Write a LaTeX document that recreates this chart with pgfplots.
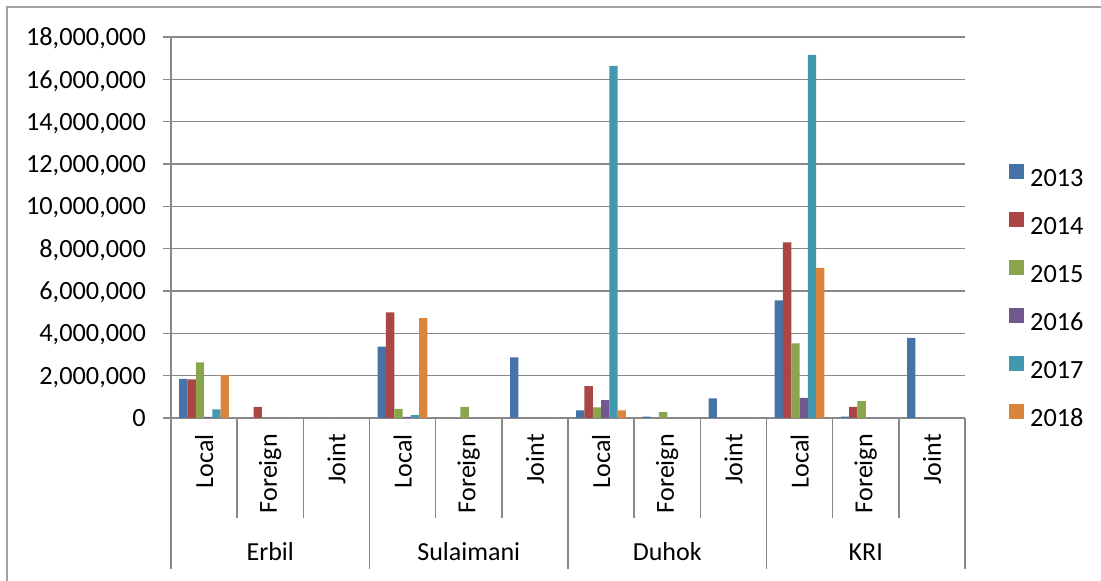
\documentclass[border=0pt]{standalone}
\usepackage{pgfplots}
\pgfplotsset{compat=1.18}
\usepackage{fontspec}
\setmainfont{Carlito}
\definecolor{c13}{HTML}{4572A7}
\definecolor{c14}{HTML}{AA4643}
\definecolor{c15}{HTML}{89A54E}
\definecolor{c16}{HTML}{71588F}
\definecolor{c17}{HTML}{4198AF}
\definecolor{c18}{HTML}{DB843D}
\definecolor{gridgray}{HTML}{898989}
\newcommand{\cfont}{\fontsize{26}{31}\selectfont}
\newcommand{\tfont}{\fontsize{26.3}{31}\selectfont}
\begin{document}
\begin{tikzpicture}
\path[use as bounding box] (0pt,0pt) rectangle (1101pt,581pt);
\draw[color=gridgray!80, line width=1.4pt] (7pt,-5pt) -- (7pt,574pt) -- (1110pt,574pt);
\begin{axis}[
  at={(171pt,163pt)}, anchor=south west,
  scale only axis, width=794pt, height=381pt,
  xmin=-0.5, xmax=11.5, ymin=0, ymax=18000000,
  ybar=0pt, bar width=8.3pt,
  axis x line*=bottom, axis y line*=left,
  axis line style={-, draw=gridgray, line width=1.5pt},
  clip=false,
  ytick={0,2000000,4000000,6000000,8000000,10000000,12000000,14000000,16000000,18000000},
  scaled y ticks=false,
  /pgf/number format/fixed, /pgf/number format/precision=0,
  /pgf/number format/1000 sep={,}, /pgf/number format/assume math mode=true,
  yticklabel style={font=\tfont, inner sep=0pt, text depth=0pt, anchor=east, xshift=-17pt},
  ymajorgrids, major grid style={draw=gridgray, line width=1.5pt},
  tick align=outside, major tick length=8pt,
  major y tick style={draw=gridgray, line width=1.5pt},
  xtick={0,1,2,3,4,5,6,7,8,9,10,11},
  xticklabels={Local,Foreign,Joint,Local,Foreign,Joint,Local,Foreign,Joint,Local,Foreign,Joint},
  xticklabel style={font=\cfont, rotate=90, anchor=east, inner sep=0pt},
  xticklabel shift=8pt,
  major x tick style={draw=none},
  minor xtick={-0.5,0.5,1.5,2.5,3.5,4.5,5.5,6.5,7.5,8.5,9.5,10.5,11.5},
  minor tick length=100pt,
  minor x tick style={draw=gridgray, line width=1.5pt},
  legend style={at={(1.0554,0.3228)}, anchor=west, draw=none, fill=none, font=\tfont,
    inner sep=0pt, row sep=25pt, column sep=0pt,
    nodes={inner xsep=6pt, inner ysep=0pt, text height=16pt, text depth=0pt}},
  legend cell align=left,
  legend image code/.code={\fill[#1] (0pt,0pt) rectangle (15pt,15pt);},
]
\addplot[fill=c13, draw=none] coordinates {(0,1850000) (1,0) (2,0) (3,3370000) (4,0) (5,2870000) (6,360000) (7,60000) (8,930000) (9,5560000) (10,60000) (11,3780000)};
\addplot[fill=c14, draw=none] coordinates {(0,1820000) (1,520000) (2,0) (3,4990000) (4,0) (5,0) (6,1510000) (7,0) (8,0) (9,8300000) (10,520000) (11,0)};
\addplot[fill=c15, draw=none] coordinates {(0,2630000) (1,0) (2,0) (3,430000) (4,530000) (5,0) (6,500000) (7,280000) (8,0) (9,3520000) (10,800000) (11,0)};
\addplot[fill=c16, draw=none] coordinates {(0,50000) (1,0) (2,0) (3,50000) (4,0) (5,0) (6,840000) (7,0) (8,0) (9,950000) (10,0) (11,0)};
\addplot[fill=c17, draw=none] coordinates {(0,410000) (1,0) (2,0) (3,140000) (4,0) (5,0) (6,16630000) (7,0) (8,0) (9,17150000) (10,0) (11,0)};
\addplot[fill=c18, draw=none] coordinates {(0,2030000) (1,0) (2,0) (3,4720000) (4,0) (5,0) (6,360000) (7,0) (8,0) (9,7090000) (10,0) (11,0)};
\legend{2013,2014,2015,2016,2017,2018}
\draw[gridgray, line width=1.5pt] (axis cs:-0.5,0) -- ++(0pt,-151pt);
\draw[gridgray, line width=1.5pt] (axis cs:2.5,0) -- ++(0pt,-151pt);
\draw[gridgray, line width=1.5pt] (axis cs:5.5,0) -- ++(0pt,-151pt);
\draw[gridgray, line width=1.5pt] (axis cs:8.5,0) -- ++(0pt,-151pt);
\draw[gridgray, line width=1.5pt] (axis cs:11.5,0) -- ++(0pt,-151pt);
\node[font=\cfont, anchor=base] at (axis cs:1,0) [yshift=-142pt] {Erbil};
\node[font=\cfont, anchor=base] at (axis cs:4,0) [yshift=-142pt] {Sulaimani};
\node[font=\cfont, anchor=base] at (axis cs:7,0) [yshift=-142pt] {Duhok};
\node[font=\cfont, anchor=base] at (axis cs:10,0) [yshift=-142pt] {KRI};
\end{axis}
\end{tikzpicture}
\end{document}
